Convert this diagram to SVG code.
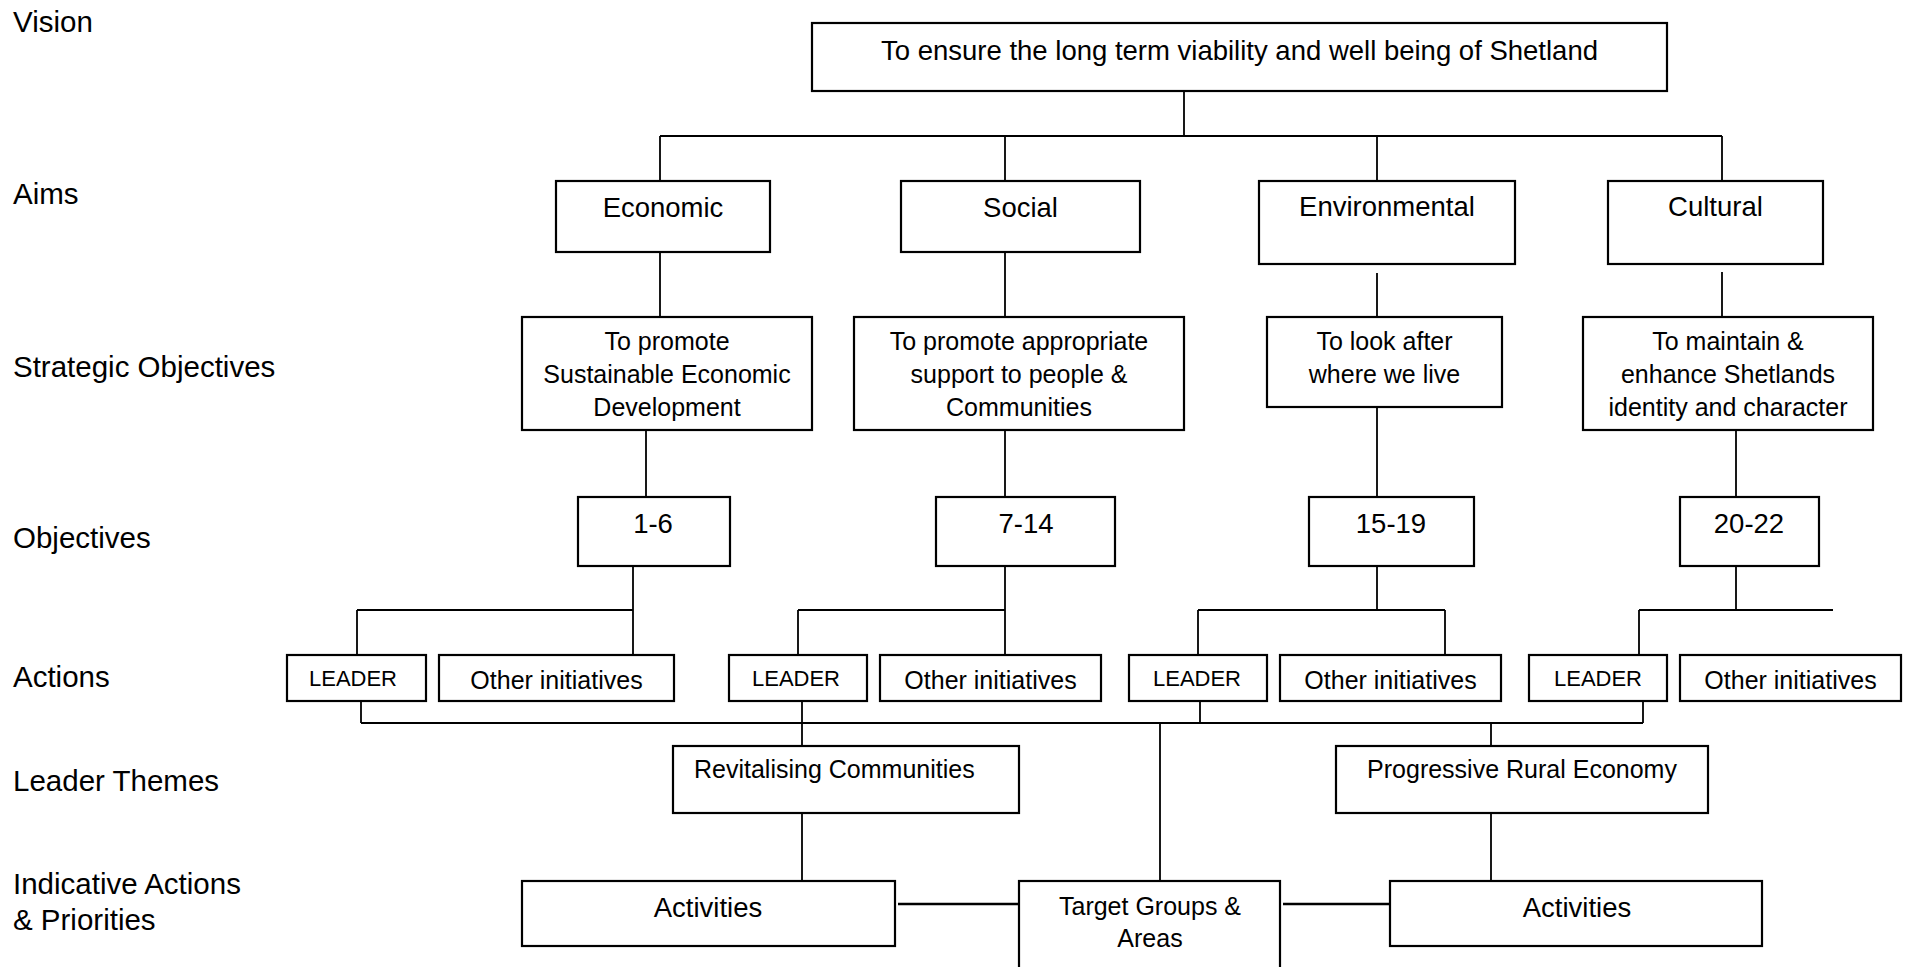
<svg xmlns="http://www.w3.org/2000/svg" width="1906" height="967" viewBox="0 0 1906 967">
<style>
.bg{fill:#fff}
.box{fill:#fff;stroke:#000;stroke-width:2.2}
.ln{fill:none;stroke:#000;stroke-width:1.8}
.thick{fill:none;stroke:#000;stroke-width:2.6}
text{font-family:"Liberation Sans",Arial,sans-serif;fill:#000}
.lab{font-size:29.5px}
.big{font-size:27.5px;text-anchor:middle}
.t25{font-size:25px;text-anchor:middle}
.ld{font-size:22px;text-anchor:middle}
</style>
<rect class="bg" x="0" y="0" width="1906" height="967"/>
<g id="row-labels">
<text class="lab" x="13" y="32">Vision</text>
<text class="lab" x="13" y="204">Aims</text>
<text class="lab" x="13" y="376.5">Strategic Objectives</text>
<text class="lab" x="13" y="548">Objectives</text>
<text class="lab" x="13" y="687">Actions</text>
<text class="lab" x="13" y="791">Leader Themes</text>
<text class="lab" x="13" y="894">Indicative Actions</text>
<text class="lab" x="13" y="930">&amp; Priorities</text>
</g>
<g id="connectors">
<path class="ln" d="M1184 91V136M660 136H1722M660 136V181M1005 136V181M1377 136V181M1722 136V181"/>
<path class="ln" d="M660 252V317M1005 252V317M1377 273V317M1722 272V317"/>
<path class="ln" d="M646 430V497M1005 430V497M1377 407V497M1736 430V497"/>
<path class="ln" d="M633 566V655M357 610H633M357 610V655"/>
<path class="ln" d="M1005 566V655M798 610H1005M798 610V655"/>
<path class="ln" d="M1377 566V610M1198 610H1445M1198 610V655M1445 610V655"/>
<path class="ln" d="M1736 566V610M1639 610H1833M1639 610V655"/>
<path class="ln" d="M361 701V723M802 701V746M1200 701V723M1643 701V723M361 723H1643"/>
<path class="ln" d="M1160 723V881M1491 723V746"/>
<path class="ln" d="M802 813V881M1491 813V881"/>
<path class="thick" d="M898 904H1021M1283 904H1390"/>
</g>
<g id="vision"><rect class="box" x="812" y="23" width="855" height="68"/><text class="big" x="1239.5" y="60">To ensure the long term viability and well being of Shetland</text></g>
<g id="aim-economic"><rect class="box" x="556" y="181" width="214" height="71"/><text class="big" x="663" y="217">Economic</text></g>
<g id="aim-social"><rect class="box" x="901" y="181" width="239" height="71"/><text class="big" x="1020.5" y="217">Social</text></g>
<g id="aim-environmental"><rect class="box" x="1259" y="181" width="256" height="83"/><text class="big" x="1387" y="216">Environmental</text></g>
<g id="aim-cultural"><rect class="box" x="1608" y="181" width="215" height="83"/><text class="big" x="1715.5" y="216">Cultural</text></g>
<g id="so-economic"><rect class="box" x="522" y="317" width="290" height="113"/><text class="t25" x="667" y="350">To promote</text><text class="t25" x="667" y="383">Sustainable Economic</text><text class="t25" x="667" y="416">Development</text></g>
<g id="so-social"><rect class="box" x="854" y="317" width="330" height="113"/><text class="t25" x="1019" y="350">To promote appropriate</text><text class="t25" x="1019" y="383">support to people &amp;</text><text class="t25" x="1019" y="416">Communities</text></g>
<g id="so-environmental"><rect class="box" x="1267" y="317" width="235" height="90"/><text class="t25" x="1384.5" y="350">To look after</text><text class="t25" x="1384.5" y="383">where we live</text></g>
<g id="so-cultural"><rect class="box" x="1583" y="317" width="290" height="113"/><text class="t25" x="1728" y="350">To maintain &amp;</text><text class="t25" x="1728" y="383">enhance Shetlands</text><text class="t25" x="1728" y="416">identity and character</text></g>
<g id="obj-1-6"><rect class="box" x="578" y="497" width="152" height="69"/><text class="big" x="653" y="533">1-6</text></g>
<g id="obj-7-14"><rect class="box" x="936" y="497" width="179" height="69"/><text class="big" x="1026" y="533">7-14</text></g>
<g id="obj-15-19"><rect class="box" x="1309" y="497" width="165" height="69"/><text class="big" x="1391" y="533">15-19</text></g>
<g id="obj-20-22"><rect class="box" x="1680" y="497" width="139" height="69"/><text class="big" x="1749" y="533">20-22</text></g>
<g id="leader-1"><rect class="box" x="287" y="655" width="139" height="46"/><text class="ld" x="353" y="686">LEADER</text></g>
<g id="other-1"><rect class="box" x="439" y="655" width="235" height="46"/><text class="t25" x="556.5" y="689">Other initiatives</text></g>
<g id="leader-2"><rect class="box" x="729" y="655" width="138" height="46"/><text class="ld" x="796" y="686">LEADER</text></g>
<g id="other-2"><rect class="box" x="880" y="655" width="221" height="46"/><text class="t25" x="990.5" y="689">Other initiatives</text></g>
<g id="leader-3"><rect class="box" x="1129" y="655" width="138" height="46"/><text class="ld" x="1197" y="686">LEADER</text></g>
<g id="other-3"><rect class="box" x="1280" y="655" width="221" height="46"/><text class="t25" x="1390.5" y="689">Other initiatives</text></g>
<g id="leader-4"><rect class="box" x="1529" y="655" width="138" height="46"/><text class="ld" x="1598" y="686">LEADER</text></g>
<g id="other-4"><rect class="box" x="1680" y="655" width="221" height="46"/><text class="t25" x="1790.5" y="689">Other initiatives</text></g>
<g id="theme-revitalising"><rect class="box" x="673" y="746" width="346" height="67"/><text class="t25" x="694" y="778" style="text-anchor:start">Revitalising Communities</text></g>
<g id="theme-progressive"><rect class="box" x="1336" y="746" width="372" height="67"/><text class="t25" x="1522" y="778">Progressive Rural Economy</text></g>
<g id="activities-left"><rect class="box" x="522" y="881" width="373" height="65"/><text class="big" x="708" y="917">Activities</text></g>
<g id="target-groups"><rect class="box" x="1019" y="881" width="261" height="100"/><text class="t25" x="1150" y="915">Target Groups &amp;</text><text class="t25" x="1150" y="947">Areas</text></g>
<g id="activities-right"><rect class="box" x="1390" y="881" width="372" height="65"/><text class="big" x="1577" y="917">Activities</text></g>
</svg>
